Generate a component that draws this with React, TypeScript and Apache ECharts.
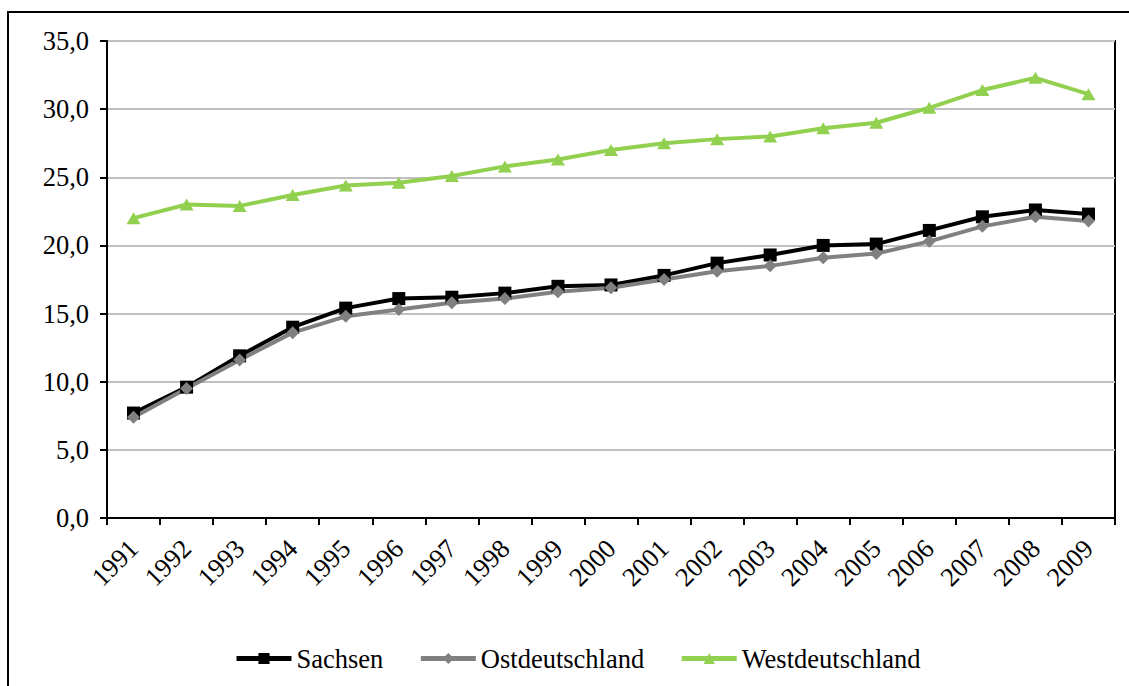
import React, { useEffect, useRef } from "react";
import * as echarts from "echarts";

const years = ["1991","1992","1993","1994","1995","1996","1997","1998","1999","2000","2001","2002","2003","2004","2005","2006","2007","2008","2009"];
const sachsen = [7.7, 9.6, 11.9, 14.0, 15.4, 16.1, 16.2, 16.5, 17.0, 17.1, 17.8, 18.7, 19.3, 20.0, 20.1, 21.1, 22.1, 22.6, 22.3];
const ostdeutschland = [7.4, 9.5, 11.6, 13.6, 14.8, 15.3, 15.8, 16.1, 16.6, 16.9, 17.5, 18.1, 18.5, 19.1, 19.4, 20.3, 21.4, 22.1, 21.8];
const westdeutschland = [22.0, 23.0, 22.9, 23.7, 24.4, 24.6, 25.1, 25.8, 26.3, 27.0, 27.5, 27.8, 28.0, 28.6, 29.0, 30.1, 31.4, 32.3, 31.1];

const FONT = "Times New Roman";
const FS = 26.5;

export default function App() {
  const ref = useRef<HTMLDivElement>(null);
  useEffect(() => {
    if (!ref.current) return;
    const chart = echarts.init(ref.current, undefined, { renderer: "svg" });
    chart.setOption({
      animation: false,
      backgroundColor: "#ffffff",
      textStyle: { fontFamily: FONT },
      graphic: [
        {
          type: "rect",
          silent: true,
          shape: { x: 8, y: 12, width: 1300, height: 900 },
          style: { fill: "none", stroke: "#000", lineWidth: 2 },
        },
      ],
      grid: {
        left: 107,
        top: 41,
        right: 14,
        bottom: 168,
        show: true,
        borderColor: "#000",
        borderWidth: 2,
        backgroundColor: "transparent",
      },
      legend: {
        left: 229,
        top: 640,
        itemWidth: 55,
        itemHeight: 14,
        itemGap: 35,
        lineStyle: { width: 5 },
        textStyle: { fontSize: FS, color: "#000", fontFamily: FONT },
        data: ["Sachsen", "Ostdeutschland", "Westdeutschland"],
      },
      xAxis: {
        type: "category",
        data: years,
        boundaryGap: true,
        axisLine: { show: true, lineStyle: { color: "#000", width: 2 } },
        axisTick: { show: true, length: 7, lineStyle: { color: "#000", width: 2 } },
        axisLabel: {
          interval: 0,
          rotate: 45,
          margin: 26,
          fontSize: FS,
          color: "#000",
          fontFamily: FONT,
        },
        splitLine: { show: false },
      },
      yAxis: {
        type: "value",
        min: 0,
        max: 35,
        interval: 5,
        axisLine: { show: true, lineStyle: { color: "#000", width: 2 } },
        axisTick: { show: true, length: 7, lineStyle: { color: "#000", width: 2 } },
        axisLabel: {
          margin: 18,
          fontSize: FS,
          color: "#000",
          fontFamily: FONT,
          formatter: (v: number) => v.toFixed(1).replace(".", ","),
        },
        splitLine: { show: true, lineStyle: { color: "#c0c0c0", width: 2 } },
      },
      series: [
        {
          name: "Sachsen",
          type: "line",
          data: sachsen,
          symbol: "rect",
          symbolSize: 13,
          showAllSymbol: true,
          lineStyle: { color: "#000", width: 4 },
          itemStyle: { color: "#000" },
        },
        {
          name: "Ostdeutschland",
          type: "line",
          data: ostdeutschland,
          symbol: "diamond",
          symbolSize: [13, 13],
          showAllSymbol: true,
          lineStyle: { color: "#808080", width: 4 },
          itemStyle: { color: "#808080" },
        },
        {
          name: "Westdeutschland",
          type: "line",
          data: westdeutschland,
          symbol: "triangle",
          symbolSize: [14, 12],
          showAllSymbol: true,
          lineStyle: { color: "#92d050", width: 4 },
          itemStyle: { color: "#92d050" },
        },
      ],
    });
    return () => chart.dispose();
  }, []);
  return (
    <div
      ref={ref}
      style={{ position: "absolute", left: 0, top: 0, width: 1129, height: 686 }}
    />
  );
}
